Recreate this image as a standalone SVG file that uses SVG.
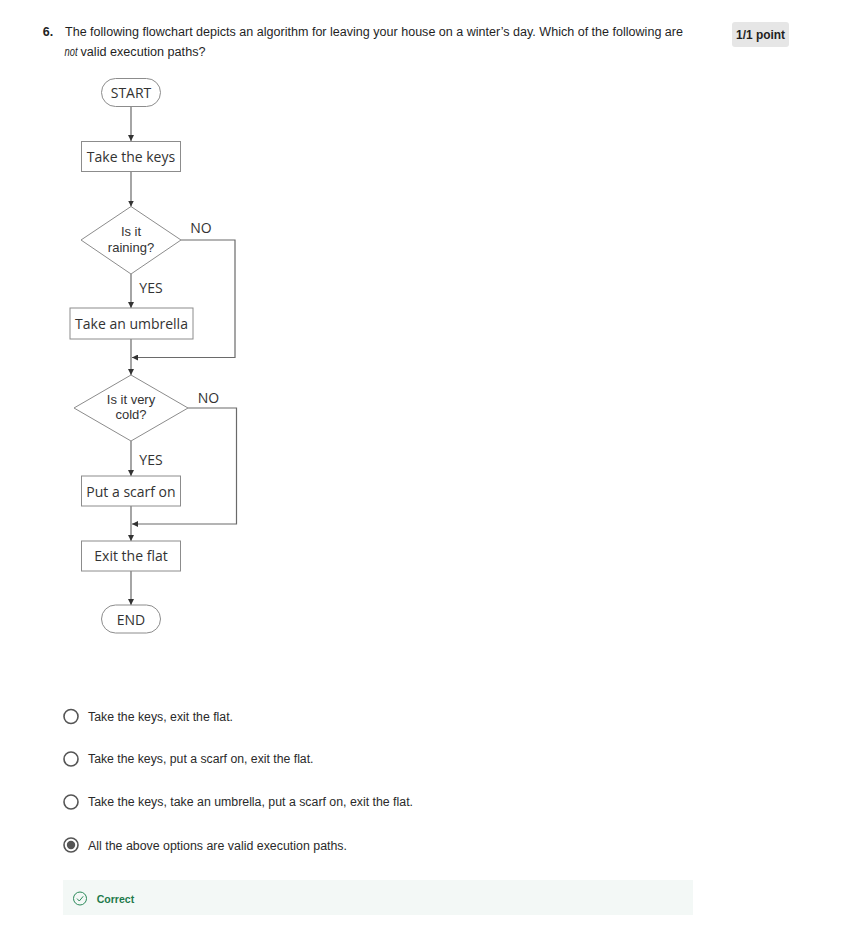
<svg xmlns="http://www.w3.org/2000/svg" width="858" height="931" viewBox="0 0 858 931">
<style>
.q{font-family:"Liberation Sans",Arial,sans-serif;font-size:12.5px;fill:#1f1f1f}
.fc{font-family:"Open Sans","Noto Sans",sans-serif;font-size:14px;fill:#333;text-anchor:middle;dominant-baseline:central}
.dt{font-family:"Liberation Sans",Arial,sans-serif;font-size:13px;fill:#333;text-anchor:middle;dominant-baseline:central}
.box{fill:#fff;stroke:#8c8c8c;stroke-width:1}
.ln{fill:none;stroke:#6a6a6a;stroke-width:1.2}
.opt{font-family:"Liberation Sans",Arial,sans-serif;font-size:12px;fill:#2a2a2a;dominant-baseline:central}
.radio{fill:#fff;stroke:#555;stroke-width:1.6}
</style>
<defs>
<marker id="ah" viewBox="0 0 10 10" refX="10" refY="5" markerWidth="6" markerHeight="6" markerUnits="userSpaceOnUse" orient="auto">
<path d="M0,0 L10,5 L0,10 Z" fill="#333"/>
</marker>
</defs>
<rect width="858" height="931" fill="#fff"/>

<g id="question">
<text class="q" x="42.7" y="35.5" font-weight="bold">6.</text>
<text class="q" x="65" y="35.5" textLength="618" lengthAdjust="spacingAndGlyphs">The following flowchart depicts an algorithm for leaving your house on a winter’s day. Which of the following are</text>
<text class="q" x="64.5" y="55.5" font-style="italic" textLength="13" lengthAdjust="spacingAndGlyphs">not</text>
<text class="q" x="80.5" y="55.5" textLength="125" lengthAdjust="spacingAndGlyphs">valid execution paths?</text>
</g>

<g id="badge">
<rect x="732" y="22" width="57" height="25" rx="3" fill="#e6e6e6"/>
<text x="760.5" y="35" font-family="Liberation Sans Narrow,Liberation Sans,Arial,sans-serif" font-size="12" font-weight="bold" fill="#1f1f1f" text-anchor="middle" dominant-baseline="central" textLength="49" lengthAdjust="spacingAndGlyphs">1/1 point</text>
</g>

<g id="connectors">
<line class="ln" x1="131" y1="107" x2="131" y2="141" marker-end="url(#ah)"/>
<line class="ln" x1="131" y1="172" x2="131" y2="206.5" marker-end="url(#ah)"/>
<line class="ln" x1="131" y1="274" x2="131" y2="308" marker-end="url(#ah)"/>
<line class="ln" x1="131" y1="339" x2="131" y2="375" marker-end="url(#ah)"/>
<polyline class="ln" points="181,240 235,240 235,357.5 132,357.5" marker-end="url(#ah)"/>
<line class="ln" x1="131" y1="441" x2="131" y2="476" marker-end="url(#ah)"/>
<line class="ln" x1="131" y1="506" x2="131" y2="541" marker-end="url(#ah)"/>
<polyline class="ln" points="188,408 236.5,408 236.5,524 132,524" marker-end="url(#ah)"/>
<line class="ln" x1="131" y1="571" x2="131" y2="605" marker-end="url(#ah)"/>
</g>

<g id="start">
<rect class="box" x="101.5" y="78.5" width="59" height="28" rx="14"/>
<text class="fc" x="131" y="92.5">START</text>
</g>
<g id="keys">
<rect class="box" x="81.5" y="141.5" width="99" height="30"/>
<text class="fc" x="131" y="156.5">Take the keys</text>
</g>
<g id="raining">
<polygon class="box" points="131,206.5 181,240 131,274 81,240"/>
<text class="dt" x="131" y="231">Is it<tspan x="131" dy="15.5">raining?</tspan></text>
</g>
<g id="labels1">
<text class="fc" x="201" y="227" font-size="13">NO</text>
<text class="fc" x="151" y="287" font-size="13">YES</text>
</g>
<g id="umbrella">
<rect class="box" x="70" y="308" width="123" height="31"/>
<text class="fc" x="131.5" y="323.5">Take an umbrella</text>
</g>
<g id="cold">
<polygon class="box" points="131,375 188,408 131,441 74,408"/>
<text class="dt" x="131" y="399.3" font-size="12.5">Is it very<tspan x="131" dy="14.5">cold?</tspan></text>
</g>
<g id="labels2">
<text class="fc" x="208.5" y="397.5" font-size="13">NO</text>
<text class="fc" x="151" y="459" font-size="13">YES</text>
</g>
<g id="scarf">
<rect class="box" x="81.5" y="476" width="99" height="30"/>
<text class="fc" x="131" y="491">Put a scarf on</text>
</g>
<g id="exit">
<rect class="box" x="81.5" y="541" width="99" height="30"/>
<text class="fc" x="131" y="555.5">Exit the flat</text>
</g>
<g id="end">
<rect class="box" x="101.5" y="605" width="59" height="28" rx="14"/>
<text class="fc" x="131" y="619">END</text>
</g>

<g id="options">
<circle class="radio" cx="71" cy="716.5" r="7"/>
<text class="opt" x="88" y="716.5" textLength="145" lengthAdjust="spacingAndGlyphs">Take the keys, exit the flat.</text>
<circle class="radio" cx="71" cy="759" r="7"/>
<text class="opt" x="88" y="758.5" textLength="225.5" lengthAdjust="spacingAndGlyphs">Take the keys, put a scarf on, exit the flat.</text>
<circle class="radio" cx="71" cy="802" r="7"/>
<text class="opt" x="88" y="802" textLength="325" lengthAdjust="spacingAndGlyphs">Take the keys, take an umbrella, put a scarf on, exit the flat.</text>
<circle class="radio" cx="71" cy="845" r="7"/>
<circle cx="71" cy="845" r="4.2" fill="#555"/>
<text class="opt" x="88" y="845.5" textLength="259" lengthAdjust="spacingAndGlyphs">All the above options are valid execution paths.</text>
</g>

<g id="feedback">
<rect x="63" y="880" width="630" height="35" fill="#f3f8f6"/>
<circle cx="80" cy="898.5" r="6.5" fill="none" stroke="#2b8a5a" stroke-width="1"/>
<path d="M77,898.6 L79.3,901 L83.2,896.3" fill="none" stroke="#2b8a5a" stroke-width="1"/>
<text x="96.7" y="898.5" font-family="Liberation Sans Narrow,Liberation Sans,Arial,sans-serif" font-size="11" font-weight="bold" fill="#1d7a4a" dominant-baseline="central" textLength="37.5" lengthAdjust="spacingAndGlyphs">Correct</text>
</g>
</svg>
